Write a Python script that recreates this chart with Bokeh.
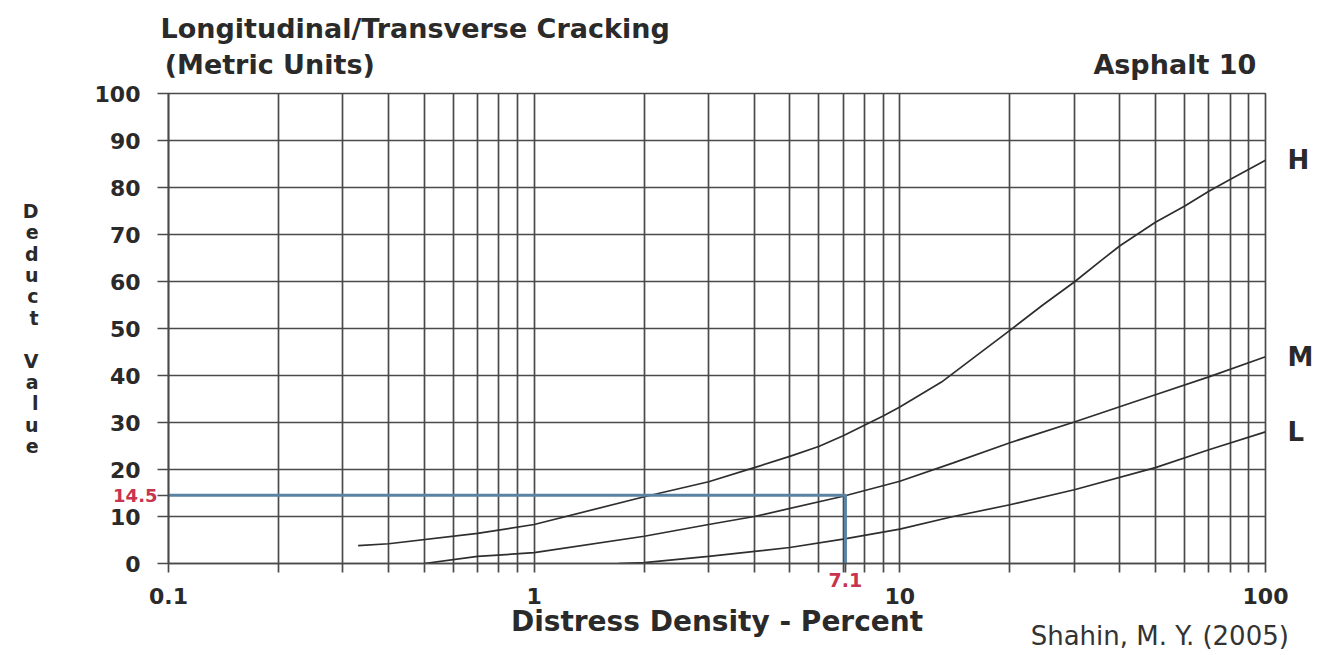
from bokeh.plotting import figure
from bokeh.models import FixedTicker, Range1d, LogAxis, LinearAxis, Title
from bokeh.embed import file_html
from bokeh.resources import INLINE

# ---- data ----
H_X = [0.33, 0.4, 0.7, 1, 2, 3, 4, 5, 6, 7, 8, 9, 10, 13, 16, 20, 24.5, 30, 35.7, 40, 50, 60, 70, 80, 100]
H_Y = [3.8, 4.2, 6.4, 8.3, 14.2, 17.4, 20.4, 22.8, 24.9, 27.2, 29.4, 31.4, 33.3, 38.6, 43.9, 49.6, 54.9, 59.9, 64.6, 67.6, 72.6, 76.0, 79.2, 81.7, 85.8]

M_X = [0.5, 0.7, 1, 2, 3, 4, 7, 10, 14, 20, 30, 50, 70, 100]
M_Y = [0.0, 1.5, 2.3, 5.8, 8.3, 10.0, 14.3, 17.5, 21.4, 25.7, 30.1, 35.9, 39.7, 44.0]

L_X = [1.7, 2, 3, 5, 7, 10, 14, 20, 30, 50, 70, 100]
L_Y = [0.0, 0.2, 1.5, 3.4, 5.2, 7.3, 10.0, 12.5, 15.7, 20.4, 24.2, 28.0]

SERIES_NAMES = ["H", "M", "L"]

READ_X = 7.1
READ_Y = 14.5

X_MAJOR = [0.1, 1, 10, 100]
X_LABELS = ["0.1", "1", "10", "100"]
X_MINOR = [0.2, 0.3, 0.4, 0.5, 0.6, 0.7, 0.8, 0.9,
           2, 3, 4, 5, 6, 7, 8, 9,
           20, 30, 40, 50, 60, 70, 80, 90]
Y_TICKS = [0, 10, 20, 30, 40, 50, 60, 70, 80, 90, 100]

TITLE_1 = "Longitudinal/Transverse Cracking"
TITLE_2 = "(Metric Units)"
TITLE_R = "Asphalt 10"
X_TITLE = "Distress Density - Percent"
Y_TITLE = "Deduct Value"
SOURCE = "Shahin, M. Y. (2005)"

# anchor positions of free texts (data units along the log axis)
TOP_TEXT_X = [0.1892, 56.5]
SOURCE_X = 51.4

GRID = "#4a4a4a"
CURVE = "#2e2e2e"
BLUE = "#5a83a3"
RED = "#c8334d"
TXT = "#2a2a2a"
FONT = "DejaVu Sans"

p = figure(width=1327, height=655, x_axis_type="log",
           x_range=Range1d(0.1, 100), y_range=Range1d(0, 100),
           output_backend="svg", toolbar_location=None,
           min_border_left=168, min_border_right=62,
           min_border_top=93, min_border_bottom=92,
           background_fill_color="white", border_fill_color="white")

main_x = p.xaxis[0]
main_y = p.yaxis[0]

# grid
p.xgrid.ticker = FixedTicker(ticks=X_MAJOR, minor_ticks=X_MINOR)
p.ygrid.ticker = FixedTicker(ticks=Y_TICKS, minor_ticks=[])
for g in (p.xgrid, p.ygrid):
    g.grid_line_color = GRID
    g.grid_line_width = 1.7
p.xgrid.minor_grid_line_color = GRID
p.xgrid.minor_grid_line_width = 1.7
p.outline_line_color = GRID
p.outline_line_width = 1.7


def style_axis(ax, size, color=TXT, bold=True, tick_out=0, tick_color=None, standoff=0):
    ax.axis_line_color = tick_color
    ax.axis_line_width = 1.7
    ax.major_tick_in = 0
    ax.minor_tick_in = 0
    ax.major_tick_out = tick_out
    ax.minor_tick_out = 0
    ax.major_tick_line_color = tick_color
    ax.major_tick_line_width = 1.7
    ax.minor_tick_line_color = None
    ax.major_label_text_font = FONT
    ax.major_label_text_font_style = "bold" if bold else "normal"
    ax.major_label_text_font_size = size
    ax.major_label_text_color = color
    ax.major_label_standoff = standoff


# ---- bottom: reading value (inner axis, also draws the grid-line extensions),
#      numbers + axis title, then the source note
x_marks = X_MAJOR + X_MINOR + [READ_X]
red_x = LogAxis(ticker=FixedTicker(ticks=x_marks, minor_ticks=[]),
                major_label_overrides={v: (f"{READ_X}" if v == READ_X else "") for v in x_marks})
style_axis(red_x, "19px", color=RED, tick_out=9, tick_color=GRID, standoff=0)

main_x.ticker = FixedTicker(ticks=X_MAJOR, minor_ticks=[])
main_x.major_label_overrides = {v: s for v, s in zip(X_MAJOR, X_LABELS)}
style_axis(main_x, "22px", standoff=-2)
main_x.axis_label = X_TITLE
main_x.axis_label_text_font = FONT
main_x.axis_label_text_font_style = "bold"
main_x.axis_label_text_font_size = "28px"
main_x.axis_label_text_color = TXT
main_x.axis_label_standoff = -2

src_ax = LogAxis(ticker=FixedTicker(ticks=[SOURCE_X], minor_ticks=[]),
                 major_label_overrides={SOURCE_X: SOURCE})
style_axis(src_ax, "26px", color="#333333", bold=False, standoff=-20)

p.below = [red_x, main_x, src_ax]

# ---- left: reading value (inner axis, draws the tick marks), numbers, stacked title
y_marks = Y_TICKS + [READ_Y]
red_y = LinearAxis(ticker=FixedTicker(ticks=y_marks, minor_ticks=[]),
                   major_label_overrides={v: (f"{READ_Y}" if v == READ_Y else "") for v in y_marks})
style_axis(red_y, "18px", color=RED, tick_out=11, tick_color=GRID, standoff=0)

main_y.ticker = FixedTicker(ticks=Y_TICKS, minor_ticks=[])
style_axis(main_y, "22px", standoff=-30)
main_y.axis_label = "\n".join("" if ch == " " else ch for ch in Y_TITLE)
main_y.axis_label_orientation = "horizontal"
main_y.axis_label_text_font = FONT
main_y.axis_label_text_font_style = "bold"
main_y.axis_label_text_font_size = "19px"
main_y.axis_label_text_color = TXT
main_y.axis_label_text_line_height = 0.97
main_y.axis_label_standoff = 53

p.left = [red_y, main_y]

# ---- right: series names at the end of each curve
ends = [H_Y[-1], M_Y[-1], L_Y[-1]]
right_ax = LinearAxis(ticker=FixedTicker(ticks=ends, minor_ticks=[]),
                      major_label_overrides={v: n for v, n in zip(ends, SERIES_NAMES)})
style_axis(right_ax, "26px", standoff=22)
p.add_layout(right_ax, "right")

# ---- top: subtitle row and main title
top_ax = LogAxis(ticker=FixedTicker(ticks=TOP_TEXT_X, minor_ticks=[]),
                 major_label_overrides={TOP_TEXT_X[0]: TITLE_2, TOP_TEXT_X[1]: TITLE_R})
style_axis(top_ax, "27px", standoff=14)
p.add_layout(top_ax, "above")

p.title.text = TITLE_1
p.title.align = "left"
p.title.offset = -8
p.title.text_font = FONT
p.title.text_font_style = "bold"
p.title.text_font_size = "27px"
p.title.text_color = TXT
if "standoff" in Title.properties():
    p.title.standoff = 4

# ---- curves
p.line(H_X, H_Y, line_color=CURVE, line_width=1.7)
p.line(M_X, M_Y, line_color=CURVE, line_width=1.7)
p.line(L_X, L_Y, line_color=CURVE, line_width=1.7)

# ---- reading lines
p.line([X_MAJOR[0], READ_X, READ_X], [READ_Y, READ_Y, 0], line_color=BLUE, line_width=3)

open("out.html", "w").write(file_html(p, INLINE))
